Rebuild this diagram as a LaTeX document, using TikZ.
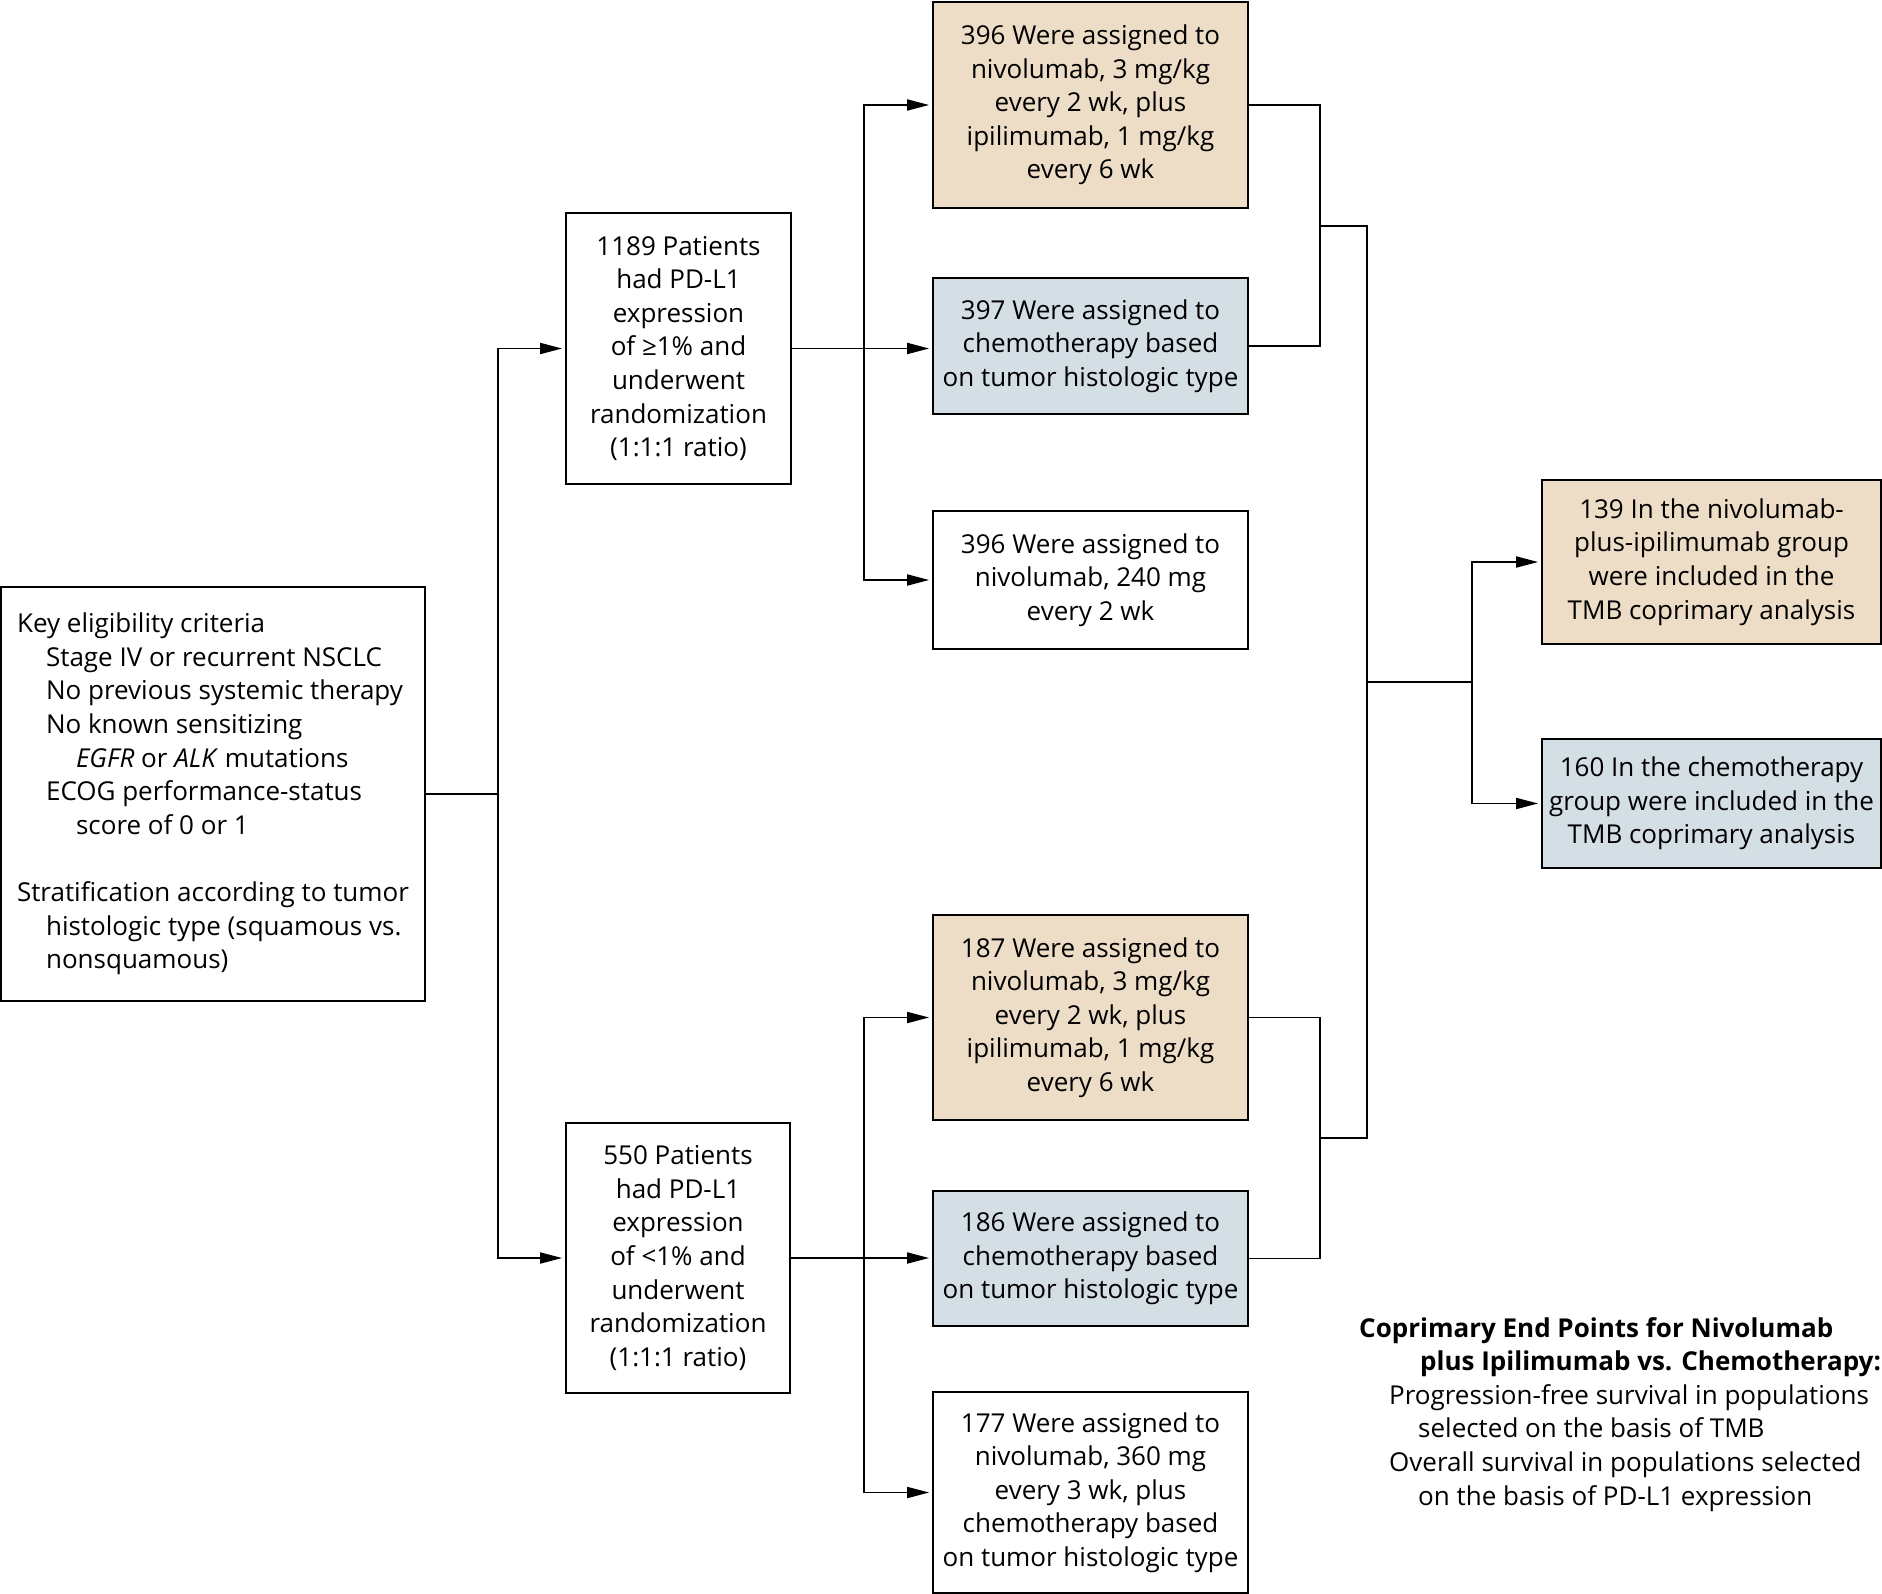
\documentclass[tikz,border=0pt]{standalone}
\usepackage{fontspec}
\setmainfont{Open Sans}
\usetikzlibrary{arrows.meta}
\definecolor{orng}{RGB}{237,220,198}
\definecolor{blu}{RGB}{212,222,229}
\tikzset{
  box/.style={draw=black, line width=1.8pt, align=center, inner sep=0pt,
    font=\fontsize{26}{33.6}\selectfont},
  obox/.style={box, fill=orng},
  bbox/.style={box, fill=blu},
  wbox/.style={box, fill=white},
  conn/.style={line width=1.8pt},
  arr/.style={conn, shorten >=3pt, -{Triangle[length=22pt,width=11pt]}},
}
\begin{document}
\begin{tikzpicture}[x=1pt,y=-1pt]
\useasboundingbox[fill=white] (0,0) rectangle (1882,1594);
% boxes
\node[wbox, align=left, minimum width=424pt, minimum height=414pt] (L) at (213,794)
 {Key eligibility criteria\\
  \hspace*{29pt}Stage IV or recurrent NSCLC\\
  \hspace*{29pt}No previous systemic therapy\\
  \hspace*{29pt}No known sensitizing\\
  \hspace*{59pt}\textit{EGFR} or \textit{ALK} mutations\\
  \hspace*{29pt}ECOG performance-status\\
  \hspace*{59pt}score of 0 or 1\\[33.6pt]
  Stratification according to tumor\\
  \hspace*{29pt}histologic type (squamous vs.\\
  \hspace*{29pt}nonsquamous)};
\node[wbox, minimum width=225pt, minimum height=271pt] (P1) at (678.5,348.5)
 {1189 Patients\\had PD-L1\\expression\\of ≥1\% and\\underwent\\randomization\\(1:1:1 ratio)};
\node[wbox, minimum width=224pt, minimum height=270pt] (P2) at (678,1258)
 {550 Patients\\had PD-L1\\expression\\of <1\% and\\underwent\\randomization\\(1:1:1 ratio)};
\node[obox, minimum width=315pt, minimum height=206pt] (A1) at (1090.5,105)
 {396 Were assigned to\\nivolumab, 3 mg/kg\\every 2 wk, plus\\ipilimumab, 1 mg/kg\\every 6 wk};
\node[bbox, minimum width=315pt, minimum height=136pt] (B1) at (1090.5,346)
 {397 Were assigned to\\chemotherapy based\\on tumor histologic type};
\node[wbox, minimum width=315pt, minimum height=138pt] (C1) at (1090.5,580)
 {396 Were assigned to\\nivolumab, 240 mg\\every 2 wk};
\node[obox, minimum width=315pt, minimum height=205pt] (A2) at (1090.5,1017.5)
 {187 Were assigned to\\nivolumab, 3 mg/kg\\every 2 wk, plus\\ipilimumab, 1 mg/kg\\every 6 wk};
\node[bbox, minimum width=315pt, minimum height=135pt] (B2) at (1090.5,1258.5)
 {186 Were assigned to\\chemotherapy based\\on tumor histologic type};
\node[wbox, minimum width=315pt, minimum height=201pt] (C2) at (1090.5,1492.5)
 {177 Were assigned to\\nivolumab, 360 mg\\every 3 wk, plus\\chemotherapy based\\on tumor histologic type};
\node[obox, minimum width=339pt, minimum height=164pt] (R1) at (1711.5,562)
 {139 In the nivolumab-\\plus-ipilimumab group\\were included in the\\TMB coprimary analysis};
\node[bbox, minimum width=339pt, minimum height=129pt] (R2) at (1711.5,803.5)
 {160 In the chemotherapy\\group were included in the\\TMB coprimary analysis};
% end points text
\node[anchor=north west, inner sep=0pt, align=left, font=\fontsize{26}{33.6}\selectfont] (EP) at (1359,1317)
 {\textbf{Coprimary End Points for Nivolumab}\\
  \hspace*{61pt}\textbf{plus Ipilimumab vs. Chemotherapy:}\\
  \hspace*{30pt}Progression-free survival in populations\\
  \hspace*{59pt}selected on the basis of TMB\\
  \hspace*{30pt}Overall survival in populations selected\\
  \hspace*{59pt}on the basis of PD-L1 expression};
% connectors left
\draw[conn] (L.east) -- ++(72,0) coordinate (jL);
\draw[arr] (jL) |- (P1.west);
\draw[arr] (jL) |- (P2.west);
% upper split
\coordinate (j1) at (864,348.5);
\draw[arr] (P1.east) -- (P1.east -| B1.west);
\draw[arr] (j1) |- (A1.west);
\draw[arr] (j1) |- (C1.west);
% lower split
\coordinate (j2) at (864,1258);
\draw[arr] (P2.east) -- (P2.east -| B2.west);
\draw[arr] (j2) |- (A2.west);
\draw[arr] (j2) |- (C2.west);
% merges
\draw[conn] (A1.east) -| (1320,226) |- (B1.east);
\coordinate (m1) at (1320,226);
\draw[conn] (A2.east) -| (1320,1138) |- (B2.east);
\coordinate (m2) at (1320,1138);
\draw[conn] (m1) -- (1367,226) coordinate (v1) -- (1367,1138) coordinate (v2) -- (m2);
\draw[conn] (1367,682) coordinate (vm) -- (1472,682) coordinate (jR);
\draw[arr] (jR) |- (R1.west);
\draw[arr] (jR) |- (R2.west);
\end{tikzpicture}
\end{document}
